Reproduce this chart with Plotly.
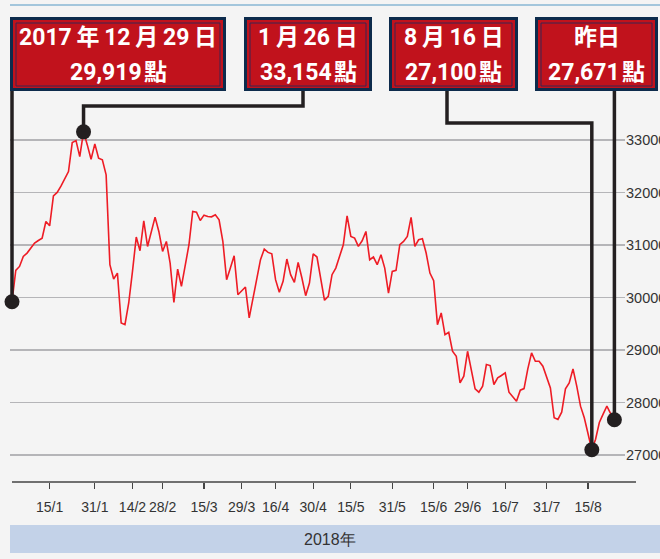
import pandas as pd
import plotly.graph_objects as go

# ---------------- data ----------------
hk_holidays = ["2018-01-01", "2018-02-16", "2018-02-19", "2018-03-30", "2018-04-02",
               "2018-04-05", "2018-05-01", "2018-05-22", "2018-06-18", "2018-07-02"]
first_day = "2017-12-29"
last_day = "2018-08-24"

trading_days = [first_day] + [d.strftime("%Y-%m-%d") for d in pd.bdate_range("2018-01-02", last_day)
                              if d.strftime("%Y-%m-%d") not in hk_holidays]

hsi_close = [
    29919, 30515, 30591, 30782, 30845, 30940, 31035, 31085, 31130, 31447,
    31365, 31935, 32000, 32119, 32259, 32398, 32949, 32987, 32683, 33154,
    32905, 32632, 32924, 32651, 32620, 32335, 30624, 30351, 30465, 29515,
    29483, 29895, 30497, 31150, 30890, 31460, 30972, 31257, 31530, 31257,
    30877, 31067, 30655, 29907, 30541, 30212, 30624, 31004, 31638, 31625,
    31466, 31568, 31543, 31536, 31574, 31479, 31070, 30339, 30560, 30795,
    30053, 30117, 30199, 29610, 29958, 30340, 30719, 30922, 30858, 30833,
    30339, 30098, 30307, 30732, 30434, 30288, 30668, 30370, 30034, 30275,
    30833, 30770, 30339, 29946, 30022, 30434, 30560, 30782, 31004, 31555,
    31162, 31131, 30972, 31080, 31257, 30719, 30770, 30624, 30814, 30560,
    30085, 30497, 30516, 31004, 31067, 31162, 31524, 30972, 31099, 31118,
    30846, 30465, 30320, 29483, 29705, 29293, 29337, 28976, 28881, 28374,
    28501, 28976, 28628, 28260, 28197, 28311, 28723, 28704, 28343, 28469,
    28514, 28564, 28197, 28108, 28026, 28235, 28265, 28640, 28944, 28786,
    28786, 28691, 28501, 28279, 27709, 27677, 27816, 28260, 28374, 28640,
    28311, 27931, 27709, 27424, 27100, 27300, 27620, 27780, 27930, 27790,
    27671,
]

tick_dates = ["2018-01-15", "2018-01-31", "2018-02-14", "2018-02-28", "2018-03-15",
              "2018-03-29", "2018-04-16", "2018-04-30", "2018-05-15", "2018-05-31",
              "2018-06-15", "2018-06-29", "2018-07-16", "2018-07-31", "2018-08-15"]
tick_labels = ["15/1", "31/1", "14/2", "28/2", "15/3", "29/3", "16/4", "30/4",
               "15/5", "31/5", "15/6", "29/6", "16/7", "31/7", "15/8"]

y_ticks = [27000, 28000, 29000, 30000, 31000, 32000, 33000]

callout_dates = ["2017-12-29", "2018-01-26", "2018-08-16", "2018-08-24"]
callout_line1 = ["2017\u2009年\u200912\u2009月\u200929\u2009日", "1\u2009月\u200926\u2009日",
                 "8\u2009月\u200916\u2009日", "昨日"]
callout_line2 = ["29,919\u200a點", "33,154\u200a點", "27,100\u200a點", "27,671\u200a點"]
year_label = "2018年"

# ---------------- layout geometry (pixels) ----------------
W, H = 660, 559
L, R, T, B = 10, 625, 88, 482
px_per_day = 3.765
x_r0 = -(12 - L) / px_per_day
x_r1 = x_r0 + (R - L) / px_per_day
y_r0 = 27000 - (B - 455) / 52.6 * 1000
y_r1 = 33000 + (140 - T) / 52.6 * 1000


def paper_x(px):
    return (px - L) / (R - L)


def paper_y(py):
    return (B - py) / (B - T)


def data_x(px):
    return x_r0 + (px - L) / (R - L) * (x_r1 - x_r0)


def data_y(py):
    return y_r1 - (py - T) / (B - T) * (y_r1 - y_r0)


BG = "#f4f4f4"
NARROW = "Liberation Sans, Arial, sans-serif"
BOLD = "Roboto, Noto Sans CJK TC, sans-serif"

fig = go.Figure()
fig.add_trace(go.Scatter(x=trading_days, y=hsi_close, mode="lines",
                         line=dict(color="#ee1c25", width=1.6), hoverinfo="skip",
                         showlegend=False))

callout_vals = [hsi_close[trading_days.index(d)] for d in callout_dates]
callout_idx = [trading_days.index(d) for d in callout_dates]

shapes = []
annotations = []

# boxes: (left, right) in px
boxes = [(10, 226), (244, 372), (389, 518), (535, 658)]
box_top, box_bot = 17, 91
# connector routes: attach x (px) at box bottom, elbow y (px) or None
routes = [(None, None), (303, 106), (447, 123), (None, None)]

for (bl, br), (ax_px, elbow), idx, val, t1, t2 in zip(boxes, routes, callout_idx, callout_vals,
                                                      callout_line1, callout_line2):
    line_style = dict(color="#231f20", width=3.5)
    top_y = data_y(box_bot - 2)
    if ax_px is None:
        shapes.append(dict(type="line", xref="x", yref="y", x0=idx, x1=idx, y0=top_y, y1=val,
                           line=line_style, layer="above"))
    else:
        ex = data_x(ax_px)
        ey = data_y(elbow)
        shapes.append(dict(type="path", xref="x", yref="y",
                           path=f"M {ex},{top_y} L {ex},{ey} L {idx},{ey} L {idx},{val}",
                           line=line_style, layer="above"))
    # box
    shapes.append(dict(type="rect", xref="paper", yref="paper", x0=paper_x(bl), x1=paper_x(br),
                       y0=paper_y(box_bot), y1=paper_y(box_top), fillcolor="#0d2b4c",
                       line=dict(width=0), layer="above"))
    shapes.append(dict(type="rect", xref="paper", yref="paper", x0=paper_x(bl + 3), x1=paper_x(br - 3),
                       y0=paper_y(box_bot - 3), y1=paper_y(box_top + 3), fillcolor="#c1121c",
                       line=dict(width=0), layer="above"))
    shapes.append(dict(type="rect", xref="paper", yref="paper", x0=paper_x(bl + 6), x1=paper_x(br - 6),
                       y0=paper_y(box_bot - 5), y1=paper_y(box_top + 6), fillcolor="rgba(0,0,0,0)",
                       line=dict(width=1, color="#3a2450"), layer="above"))
    cx = paper_x((bl + br) / 2)
    annotations.append(dict(xref="paper", yref="paper", x=cx, y=paper_y(38), text=t1,
                            showarrow=False, xanchor="center", yanchor="middle",
                            font=dict(family=BOLD, size=23, color="white", weight=700)))
    annotations.append(dict(xref="paper", yref="paper", x=cx, y=paper_y(72), text=t2,
                            showarrow=False, xanchor="center", yanchor="middle",
                            font=dict(family=BOLD, size=23, color="white", weight=700)))

fig.add_trace(go.Scatter(x=callout_dates, y=callout_vals, mode="markers",
                         marker=dict(size=15, color="#231f20"), cliponaxis=False,
                         hoverinfo="skip", showlegend=False))

# top rule
shapes.append(dict(type="line", xref="paper", yref="paper", x0=paper_x(10), x1=paper_x(660),
                   y0=paper_y(5), y1=paper_y(5), line=dict(color="#a3c6dc", width=2)))
# bottom axis line
shapes.append(dict(type="line", xref="paper", yref="paper", x0=paper_x(12), x1=paper_x(636),
                   y0=0, y1=0, line=dict(color="#444444", width=1.6)))
# year band
shapes.append(dict(type="rect", xref="paper", yref="paper", x0=paper_x(10), x1=paper_x(660),
                   y0=paper_y(553), y1=paper_y(525), fillcolor="#c3d2e8", line=dict(width=0),
                   layer="below"))
annotations.append(dict(xref="paper", yref="paper", x=paper_x(330), y=paper_y(539), text=year_label,
                        showarrow=False, xanchor="center", yanchor="middle",
                        font=dict(family=NARROW, size=16, color="#333333")))

fig.update_layout(
    width=W, height=H,
    margin=dict(l=L, r=W - R, t=T, b=H - B, pad=0, autoexpand=False),
    paper_bgcolor=BG, plot_bgcolor=BG,
    showlegend=False,
    shapes=shapes, annotations=annotations,
    xaxis=dict(type="category", range=[x_r0, x_r1], tickmode="array", tickvals=tick_dates,
               ticktext=tick_labels, showgrid=False, zeroline=False, showline=False,
               automargin=False, tickangle=0,
               ticks="outside", ticklen=6, tickwidth=1.2, tickcolor="#444444",
               ticklabelstandoff=6,
               tickfont=dict(family=NARROW, size=14, color="#333333")),
    yaxis=dict(range=[y_r0, y_r1], side="right", tickmode="array", tickvals=y_ticks,
               ticktext=[str(v) for v in y_ticks], showgrid=True, gridcolor="#b5b5b8",
               gridwidth=1.5, zeroline=False, showline=False, ticks="", automargin=False,
               tickfont=dict(family=NARROW, size=14.5, color="#333333")),
)

fig.write_html("out.html",
               config={"displayModeBar": False, "staticPlot": True},
               post_script="document.body.style.margin='0px';document.body.style.overflow='hidden';")
